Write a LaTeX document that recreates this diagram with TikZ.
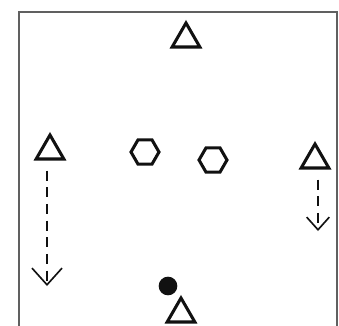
\documentclass[tikz,border=0pt]{standalone}
\usepackage{tikz}
\usetikzlibrary{arrows.meta,shapes.geometric,positioning}
\definecolor{ink}{HTML}{111111}
\definecolor{frame}{HTML}{606060}
\tikzset{cone/.style={draw=ink,regular polygon,regular polygon sides=3,minimum size=.96cm,inner sep=0pt,line width=2.6pt},
hexmark/.style={draw=ink,regular polygon,regular polygon sides=6,minimum size=.84cm,inner sep=0pt,line width=2.6pt},
ballmark/.style={circle,fill=ink,minimum size=.56cm,inner sep=0pt},
runline/.style={draw=ink,line width=1.7pt,dash pattern=on .3cm off .2cm,-{Straight Barb[length=.5cm,width=.9cm,line width=1.4pt]}},
shortrun/.style={runline,-{Straight Barb[length=.38cm,width=.68cm,line width=1.4pt]}}}
\begin{document}
\begin{tikzpicture}[x=.03cm,y=-.03cm]
\useasboundingbox (0,0) rectangle (339,325);
\draw[frame,line width=1.6pt] (19,330)--(19,12)--(337,12)--(337,330);
\node[cone] (top) at (186,39) {};
\node[cone] (left) at (50,151) {};
\node[cone] (right) at (315,160) {};
\node[cone] (bottom) at (181,314) {};
\node[hexmark] (hexa) at (145,152) {};
\node[hexmark] (hexb) at (213,160) {};
\node[ballmark] (ball) at (168,286) {};
\coordinate (leftend) at (47,286);
\coordinate (rightend) at (318,231);
\draw[runline] ([xshift=-.09cm,yshift=-.3cm]left.south) -- (leftend);
\draw[shortrun] ([xshift=.09cm,yshift=-.3cm]right.south) -- (rightend);
\end{tikzpicture}
\end{document}
